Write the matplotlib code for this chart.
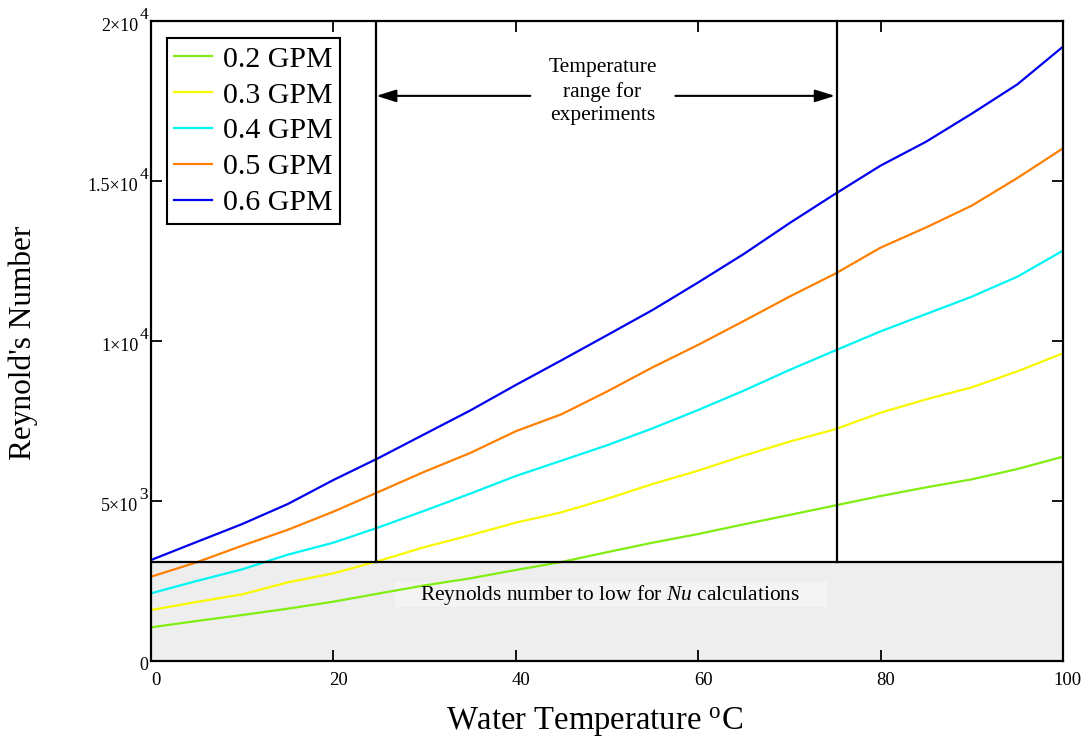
import numpy as np
import matplotlib
matplotlib.use("Agg")
import matplotlib.pyplot as plt
from matplotlib.patches import Rectangle
from matplotlib.transforms import ScaledTranslation

plt.rcParams['font.family'] = ['Liberation Serif', 'DejaVu Serif']
plt.rcParams['mathtext.fontset'] = 'custom'
plt.rcParams['mathtext.rm'] = 'Liberation Serif'
plt.rcParams['mathtext.it'] = 'Liberation Serif:italic'

# water temperature (C) and Reynolds numbers
temp = [0, 5, 10, 15, 20, 25, 30, 35, 40, 45, 50, 55, 60, 65, 70, 75, 80, 85, 90, 95, 100]
re_02 = [1052, 1250, 1437, 1635, 1854, 2110, 2363, 2583, 2844, 3094, 3400,
         3698, 3969, 4271, 4563, 4860, 5156, 5427, 5677, 6000, 6385]
re_03 = [1594, 1844, 2083, 2458, 2740, 3130, 3560, 3930, 4323, 4646, 5068,
         5531, 5948, 6417, 6854, 7240, 7760, 8177, 8552, 9052, 9615]
re_04 = [2115, 2500, 2865, 3323, 3698, 4180, 4698, 5230, 5781, 6260, 6740,
         7271, 7844, 8448, 9094, 9700, 10302, 10844, 11385, 12010, 12823]
re_05 = [2635, 3084, 3604, 4100, 4667, 5290, 5917, 6500, 7180, 7709, 8420,
         9177, 9880, 10625, 11385, 12100, 12917, 13550, 14230, 15094, 16021]
re_06 = [3156, 3719, 4280, 4906, 5656, 6350, 7090, 7828, 8625, 9396, 10180,
         10969, 11830, 12719, 13680, 14594, 15480, 16229, 17104, 18020, 19198]
labels = ['0.2 GPM', '0.3 GPM', '0.4 GPM', '0.5 GPM', '0.6 GPM']
colors = ['#80ee10', '#f8f800', '#00f5f5', '#ff8000', '#0000ee']

yticks = [0, 5000, 10000, 15000, 20000]
ytick_base = ['0', '5×10', '1×10', '1.5×10', '2×10']
ytick_exp = ['', '3', '4', '4', '4']

re_min = 3100          # below this Nu correlations are not valid
t_lo, t_hi = 24.7, 75.2  # experiment temperature range

fig = plt.figure(figsize=(10.9, 7.47), dpi=100)
ax = fig.add_axes([0.1385, 0.1151, 0.8367, 0.8568])

ax.axhspan(0, re_min, color='#eeeeee', zorder=0)
ax.add_patch(Rectangle((26.75, 1690), 47.35, 780, facecolor='#f4f4f4',
                       edgecolor='none', zorder=0.5))

for ys, lab, c in zip([re_02, re_03, re_04, re_05, re_06], labels, colors):
    ax.plot(temp, ys, color=c, lw=1.6, label=lab, zorder=2)

ax.axhline(re_min, color='black', lw=1.6, zorder=3)
ax.plot([t_lo, t_lo], [re_min, 20000], color='black', lw=1.6, zorder=3)
ax.plot([t_hi, t_hi], [re_min, 20000], color='black', lw=1.6, zorder=3)

ax.text(50.3, 2070, 'Reynolds number to low for $\\mathit{Nu}$ calculations',
        ha='center', va='center', fontsize=15.4, zorder=4)
ax.text(49.5, 17790, 'Temperature\nrange for\nexperiments', ha='center',
        va='center', fontsize=15.5, linespacing=1.3, zorder=4)
arrow = dict(arrowstyle='-|>,head_length=0.8,head_width=0.25', color='black',
             lw=1.5, shrinkA=0, shrinkB=0, mutation_scale=15)
ax.annotate('', xy=(t_lo, 17660), xytext=(41.6, 17660), arrowprops=arrow)
ax.annotate('', xy=(t_hi - 0.2, 17660), xytext=(57.5, 17660), arrowprops=arrow)

ax.set_xlim(0, 100)
ax.set_ylim(0, 20000)
ax.set_xticks([0, 20, 40, 60, 80, 100])
ax.set_xticklabels(['0', '20', '40', '60', '80', '100'])
ax.set_yticks(yticks)
ax.set_yticklabels([])
ax.tick_params(direction='in', length=8, width=1.3, top=True, right=True,
               colors='black')
ax.tick_params(axis='x', pad=8, labelsize=13.5)
off = ScaledTranslation(5 / 100, 0, fig.dpi_scale_trans)
for lab in ax.get_xticklabels():
    lab.set_transform(lab.get_transform() + off)

# y tick labels in the a×10^n style, exponent at full size
for v, b, e in zip(yticks, ytick_base, ytick_exp):
    if e:
        ax.annotate(b, xy=(0, v), xycoords=('axes fraction', 'data'),
                    xytext=(-9, -4), textcoords='offset points',
                    ha='right', va='center', fontsize=13, clip_on=False)
        ax.annotate(e, xy=(0, v), xycoords=('axes fraction', 'data'),
                    xytext=(-2, 4), textcoords='offset points',
                    ha='right', va='center', fontsize=12.5, clip_on=False)
    else:
        ax.annotate(b, xy=(0, v), xycoords=('axes fraction', 'data'),
                    xytext=(-2, -3), textcoords='offset points',
                    ha='right', va='center', fontsize=13, clip_on=False)

for s in ax.spines.values():
    s.set_linewidth(1.6)

leg = ax.legend(loc='upper left', bbox_to_anchor=(0.0175, 0.973), fontsize=21.5,
                frameon=True, fancybox=False, edgecolor='black', framealpha=1,
                handlelength=1.25, handletextpad=0.37, labelspacing=0.3,
                borderpad=0.25, borderaxespad=0)
leg.get_frame().set_linewidth(1.5)
leg.set_zorder(5)

fig.text(0.545, 0.0335, 'Water Temperature $^{\\mathrm{o}}$C', ha='center',
         va='center', fontsize=23.5)
fig.text(0.0211, 0.541, "Reynold's Number", rotation=90, ha='center',
         va='center', fontsize=22.5)

fig.savefig('out.png', dpi=100)
